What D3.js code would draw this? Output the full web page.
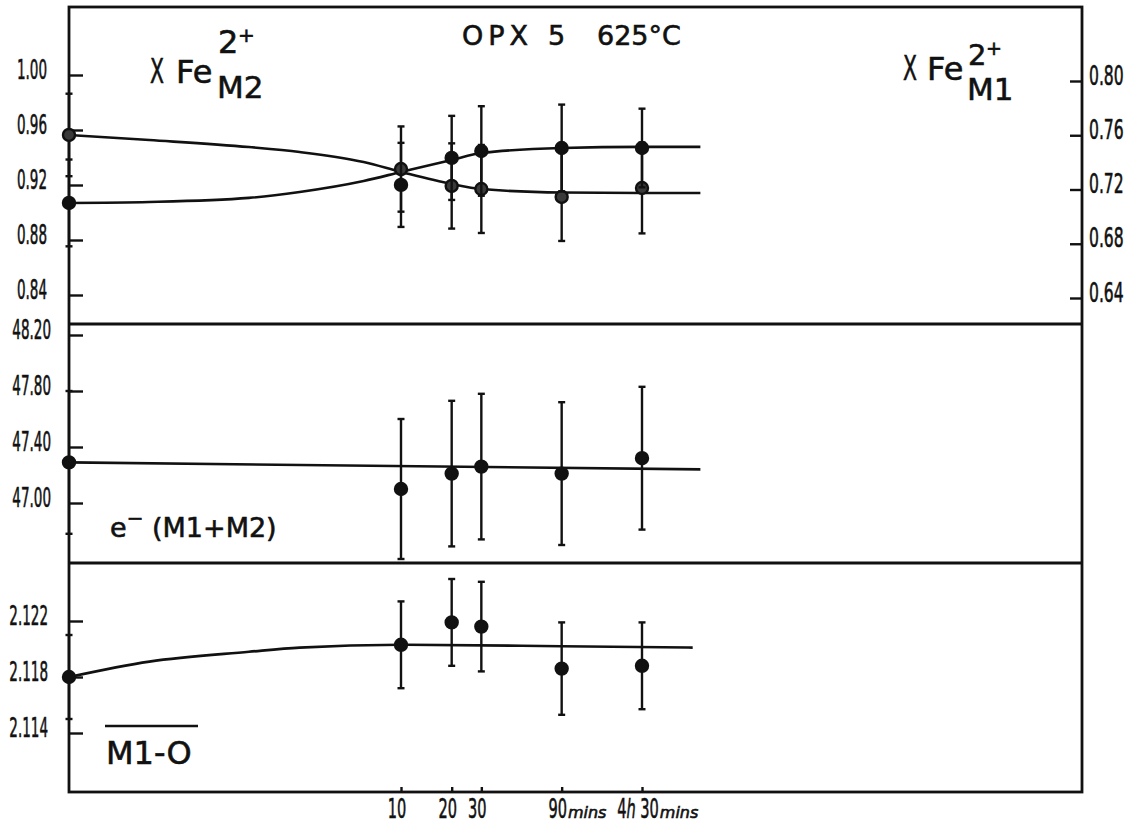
<!DOCTYPE html>
<html>
<head>
<meta charset="utf-8">
<script src="https://cdn.jsdelivr.net/npm/d3@7"></script>
<style>
  html, body { margin: 0; padding: 0; background: #fff; }
  svg { display: block; }
  text { font-family: "DejaVu Sans", "Noto Sans", sans-serif; fill: #111; stroke: #111; stroke-width: 0.6px; }
</style>
</head>
<body>
<svg id="chart" width="1140" height="825"></svg>
<script>
// Annealing times in minutes (0 = unheated starting material)
const times = [0, 10, 20, 30, 90, 270];

// XFe2+ on the M2 site (left axis), with error
const m2Values = [0.9564, 0.9316, 0.9193, 0.9171, 0.9113, 0.9178];
const m2Errors = [0.030, 0.031, 0.031, 0.032, 0.032, 0.033];

// XFe2+ on the M1 site (right axis), with error
const m1Values = [0.7101, 0.7234, 0.7433, 0.7484, 0.7506, 0.7506];
const m1Errors = [0.032, 0.031, 0.031, 0.033, 0.032, 0.029];

// electrons on M1+M2
const eValues = [47.29, 47.10, 47.21, 47.26, 47.21, 47.32];
const eErrors = [0.51, 0.50, 0.52, 0.52, 0.51, 0.51];

// mean M1-O distance
const bValues = [2.1180, 2.1203, 2.1219, 2.1216, 2.1186, 2.1188];
const bErrors = [0.0030, 0.0031, 0.0031, 0.0032, 0.0033, 0.0031];

// hand-fitted trend curves
const fitTimes = [0, 0.32, 1.25, 2.5, 6, 10, 20, 30, 90, 270, 600];
const m2Fit = [0.9564, 0.9527, 0.9476, 0.9440, 0.9367, 0.9295, 0.9207, 0.9171, 0.9145, 0.9142, 0.9142];
const m1Fit = [0.7101, 0.7108, 0.7138, 0.7182, 0.7263, 0.7329, 0.7418, 0.7469, 0.7506, 0.7514, 0.7514];
const eFitTimes = [0, 600];
const eFit = [47.29, 47.24];
const bFitTimes = [0, 0.32, 1.25, 2.5, 10, 90, 540];
const bFit = [2.1180, 2.1191, 2.1198, 2.1201, 2.1203, 2.1202, 2.1201];

// axis ticks
const m2Ticks = [0.84, 0.88, 0.92, 0.96, 1.00];
const m1Ticks = [0.64, 0.68, 0.72, 0.76, 0.80];
const eTicks = [47.00, 47.40, 47.80, 48.20];
const bTicks = [2.114, 2.118, 2.122];
const timeTicks = [10, 20, 30, 90, 270];
const timeTickNumbers = ["10", "20", "30", "90", "4h 30"];
const timeTickUnits = ["", "", "", "mins", "mins"];

// ---- layout ----
const L = 69, R = 1082, TOP = 7, DIV1 = 324, DIV2 = 563, BOTTOM = 792;
const INK = "#111";

const svg = d3.select("#chart");

const x = d3.scaleLog().domain([10, 270]).range([401, 642]);
const xPos = t => (t === 0 ? L : x(t));

const yM2 = d3.scaleLinear().domain([0.84, 1.00]).range([295, 75]);
const yM1 = d3.scaleLinear().domain([0.64, 0.80]).range([298, 81]);
const yE = d3.scaleLinear().domain([47.00, 48.20]).range([503, 335]);
const yB = d3.scaleLinear().domain([2.114, 2.122]).range([733, 621]);

// ---- frame ----
const frame = svg.append("g").attr("stroke", INK).attr("stroke-width", 2.8).attr("fill", "none");
frame.append("rect").attr("x", L).attr("y", TOP).attr("width", R - L).attr("height", BOTTOM - TOP);
[DIV1, DIV2].forEach(yy => frame.append("line").attr("x1", L).attr("x2", R).attr("y1", yy).attr("y2", yy));

// ---- axes ----
function styleAxis(g, sx, xText, anchor) {
  g.select(".domain").remove();
  g.selectAll(".tick line").attr("stroke", INK).attr("stroke-width", 2.4);
  g.selectAll(".tick text")
    .attr("font-family", "'DejaVu Sans', sans-serif")
    .attr("font-size", 26)
    .attr("fill", INK)
    .attr("stroke", INK)
    .attr("stroke-width", 1.1)
    .attr("text-anchor", anchor)
    .attr("dy", "0.12em")
    .attr("transform", `scale(${sx},1)`)
    .attr("x", xText / sx);
}

svg.append("g").attr("transform", `translate(${L},0)`)
  .call(d3.axisLeft(yM2).tickValues(m2Ticks).tickSize(-14).tickFormat(d3.format(".2f")))
  .call(g => styleAxis(g, 0.52, -22, "end"));

svg.append("g").attr("transform", `translate(${R},0)`)
  .call(d3.axisRight(yM1).tickValues(m1Ticks).tickSize(-12).tickFormat(d3.format(".2f")))
  .call(g => styleAxis(g, 0.6, 7, "start"));

svg.append("g").attr("transform", `translate(${L},0)`)
  .call(d3.axisLeft(yE).tickValues(eTicks).tickSize(-14).tickFormat(d3.format(".2f")))
  .call(g => styleAxis(g, 0.52, -18, "end"));

svg.append("g").attr("transform", `translate(${L},0)`)
  .call(d3.axisLeft(yB).tickValues(bTicks).tickSize(-14).tickFormat(d3.format(".3f")))
  .call(g => styleAxis(g, 0.52, -21, "end"));

// small time ticks on the bottom edge
svg.append("g").attr("transform", `translate(0,${BOTTOM})`)
  .call(d3.axisBottom(x).tickValues(timeTicks).tickSize(-5).tickFormat(""))
  .call(g => { g.select(".domain").remove(); g.selectAll(".tick line").attr("stroke", INK).attr("stroke-width", 2.4); });

// time labels: condensed numbers plus italic unit
const tl = svg.append("g");
timeTicks.forEach((t, i) => {
  const sx = 0.56;
  const num = tl.append("text")
    .attr("font-size", 26)
    .attr("y", 818)
    .attr("stroke-width", 1.1)
    .attr("transform", `scale(${sx},1)`);
  timeTickNumbers[i].split(/(h)/).forEach(part => {
    if (!part) return;
    num.append("tspan").text(part).attr("font-style", part === "h" ? "italic" : "normal");
  });
  const w = num.node().getComputedTextLength() * sx;
  const start = x(t) - 4 - w / 2;
  num.attr("x", start / sx);
  if (timeTickUnits[i]) {
    tl.append("text")
      .attr("x", start + w + 1)
      .attr("y", 818)
      .attr("font-size", 16)
      .attr("font-style", "italic")
      .text(timeTickUnits[i]);
  }
});

// ---- curves ----
const curveStyle = sel => sel.attr("fill", "none").attr("stroke", INK).attr("stroke-width", 2.6);

function drawFit(ts, vs, y) {
  const line = d3.line().x(d => xPos(d[0])).y(d => y(d[1])).curve(d3.curveMonotoneX);
  svg.append("path").datum(d3.zip(ts, vs)).attr("d", line).call(curveStyle);
}
drawFit(fitTimes, m2Fit, yM2);
drawFit(fitTimes, m1Fit, yM1);
drawFit(eFitTimes, eFit, yE);
drawFit(bFitTimes, bFit, yB);

// ---- error bars and points ----
function drawSeries(vals, errs, y, pointFill) {
  const g = svg.append("g");
  const data = times.map((t, i) => ({ t, v: vals[i], e: errs[i] }));
  const bars = g.selectAll("g.bar").data(data).join("g").attr("class", "bar")
    .attr("stroke", INK).attr("stroke-width", 2.4);
  bars.append("line")
    .attr("x1", d => xPos(d.t)).attr("x2", d => xPos(d.t))
    .attr("y1", d => y(d.v + d.e)).attr("y2", d => y(d.v - d.e));
  bars.append("line")
    .attr("x1", d => xPos(d.t) - 3.5).attr("x2", d => xPos(d.t) + 3.5)
    .attr("y1", d => y(d.v + d.e)).attr("y2", d => y(d.v + d.e));
  bars.append("line")
    .attr("x1", d => xPos(d.t) - 3.5).attr("x2", d => xPos(d.t) + 3.5)
    .attr("y1", d => y(d.v - d.e)).attr("y2", d => y(d.v - d.e));
  g.selectAll("circle").data(data).join("circle")
    .attr("cx", d => xPos(d.t)).attr("cy", d => y(d.v))
    .attr("r", 6)
    .attr("fill", pointFill)
    .attr("stroke", INK).attr("stroke-width", 2.4);
}
drawSeries(m2Values, m2Errors, yM2, "#3a3a3a");
drawSeries(m1Values, m1Errors, yM1, INK);
drawSeries(eValues, eErrors, yE, INK);
drawSeries(bValues, bErrors, yB, INK);

// ---- titles and panel labels ----
const T = (xx, yy, size, str) => svg.append("text").attr("x", xx).attr("y", yy).attr("font-size", size).text(str);

T(462, 45, 27, "OPX").attr("letter-spacing", 5);
T(548, 45, 27, "5");
T(597, 45, 27, "625°C");

// XFe2+ M2
T(150 / 0.6, 83, 34, "X").attr("transform", "scale(0.6,1)").attr("stroke-width", 1.2);
T(176, 83, 32, "Fe");
T(218, 53, 32, "2");
T(238, 42, 20, "+");
T(217, 98, 31, "M2");

// XFe2+ M1
T(903 / 0.6, 80, 34, "X").attr("transform", "scale(0.6,1)").attr("stroke-width", 1.2);
T(927, 80, 32, "Fe");
T(968, 65, 29, "2");
T(986, 55, 19, "+");
T(967, 100, 31, "M1");

// e- (M1+M2)
const eLab = svg.append("text").attr("x", 110).attr("y", 537).attr("font-size", 27);
eLab.append("tspan").text("e");
eLab.append("tspan").attr("dy", -12).attr("font-size", 20).text("−");
eLab.append("tspan").attr("x", 152).attr("dy", 12).text("(M1+M2)");

// mean M1-O
T(106, 764, 32, "M1-O");
svg.append("line").attr("x1", 105).attr("x2", 198).attr("y1", 726).attr("y2", 726)
  .attr("stroke", INK).attr("stroke-width", 2.6);
</script>
</body>
</html>
